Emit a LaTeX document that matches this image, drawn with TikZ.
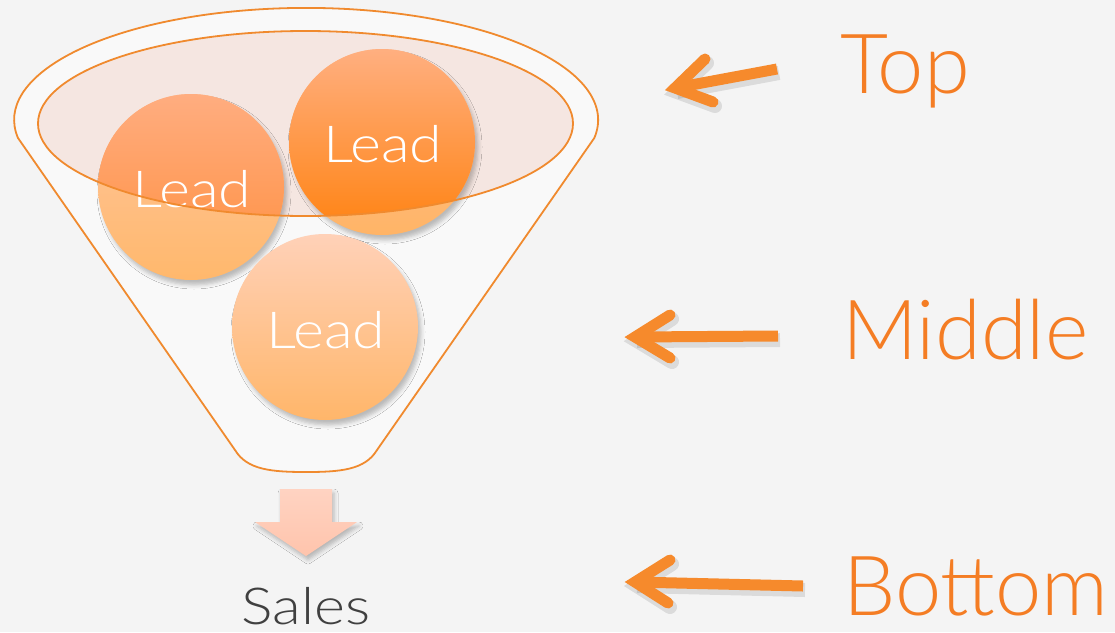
\documentclass[tikz,border=0pt]{standalone}
\usepackage{fontspec}
\IfFontExistsTF{Lato Light}{%
  \newfontfamily\lightfont{Lato Light}%
  \newfontfamily\lightwide{Lato Light}[FakeStretch=1.16]}{%
  \newfontfamily\lightfont{Lato}%
  \newfontfamily\lightwide{Lato}[FakeStretch=1.16]}
\usetikzlibrary{shadows.blur}

\definecolor{bg}{HTML}{F4F4F4}
\definecolor{funnelfill}{HTML}{F9F9F9}
\definecolor{rim}{HTML}{F08A2E}
\definecolor{mouth}{HTML}{F5E6E1}
\definecolor{accent}{HTML}{F68A2C}
\definecolor{labeltext}{HTML}{F47D24}
\definecolor{salestext}{HTML}{404040}
% lead gradients
\definecolor{leadtop}{HTML}{FFC6A0}
\definecolor{leadbotA}{HTML}{FFB86C}
\definecolor{leadbotB}{HTML}{FFB466}
\definecolor{leadtopC}{HTML}{FFD1B8}
\definecolor{leadbotC}{HTML}{FFB66A}
\definecolor{deeptopA}{HTML}{FFAD80}
\definecolor{deepbotA}{HTML}{FF8E3C}
\definecolor{deeptopB}{HTML}{FFAF80}
\definecolor{deepbotB}{HTML}{FF8210}
\definecolor{salestop}{HTML}{FFD3C2}
\definecolor{salesbot}{HTML}{FFC4AC}

\tikzset{
  outline/.style={draw=rim, line width=1.8pt},
  leadball/.style={blur shadow={shadow xshift=3pt, shadow yshift=-5pt, shadow blur radius=4pt, shadow opacity=25}},
  leadtext/.style={anchor=base, inner sep=0pt, text=white, font=\lightwide\fontsize{51}{56}\selectfont},
  stagetext/.style={anchor=base west, inner sep=0pt, text=labeltext, font=\lightfont\fontsize{83}{90}\selectfont},
  barbs/.style={draw=accent, line width=11pt, line cap=round, line join=miter},
  shaft/.style={draw=accent, line width=11pt, line cap=butt},
  arrowshade/.style={draw=black, draw opacity=0.10, line width=14pt, line cap=round, line join=miter, transform canvas={shift={(2pt,-4pt)}}},
}

\begin{document}
\begin{tikzpicture}[x=1pt,y=-1pt]
  % canvas
  \fill[bg] (0,0) rectangle (1115,632);
  \useasboundingbox (0,0) rectangle (1115,632);

  % funnel body: elliptic rim, straight sides, rounded spout
  \coordinate (rimL) at (18,138);
  \coordinate (rimR) at (594,138);
  \coordinate (spoutR) at (377,450);
  \coordinate (spoutL) at (235,450);
  \draw[outline, fill=funnelfill]
    (rimL) arc[start angle=170.7, end angle=369.3, x radius=292, y radius=112]
    -- (spoutR) .. controls (365,470) and (340,472) .. (306,472)
    .. controls (272,472) and (247,470) .. (spoutL) -- cycle;

  % funnel mouth
  \fill[mouth] (305.5,123.5) ellipse[x radius=267.5, y radius=92.5];

  % leads
  \shade[leadball, top color=leadtop, bottom color=leadbotA] (191,187) circle[radius=93];
  \shade[leadball, top color=leadtop, bottom color=leadbotB] (382,142) circle[radius=93];
  \shade[leadball, top color=leadtopC, bottom color=leadbotC] (325,327) circle[radius=93];

  % parts of the leads seen through the mouth
  \begin{scope}
    \clip (305.5,123.5) ellipse[x radius=267.5, y radius=92.5];
    \shade[top color=deeptopA, bottom color=deepbotA] (191,187) circle[radius=93];
    \shade[top color=deeptopB, bottom color=deepbotB] (382,142) circle[radius=93];
  \end{scope}

  \node[leadtext] (lead1) at (192,207) {Lead};
  \node[leadtext] (lead2) at (383,162) {Lead};
  \node[leadtext] (lead3) at (326,348) {Lead};

  \draw[outline] (305.5,123.5) ellipse[x radius=267.5, y radius=92.5];

  % output arrow and label
  \shade[top color=salestop, bottom color=salesbot,
         blur shadow={shadow xshift=2pt, shadow yshift=-4pt, shadow blur radius=4pt, shadow opacity=25}]
    (280,489) -- (332,489) -- (332,522) -- (357,522) -- (306,556) -- (255,522) -- (280,522) -- cycle;
  \node[anchor=base, inner sep=0pt, text=salestext, font=\lightwide\fontsize{51}{56}\selectfont] (sales) at (306,624) {Sales};

  % stage pointers
  \coordinate (topTip) at (675,88);  \coordinate (topEnd) at (777,69);
  \coordinate (topB1) at (705,59);   \coordinate (topB2) at (713,102);
  \coordinate (midTip) at (635,337); \coordinate (midEnd) at (778,336);
  \coordinate (midB1) at (670,315);  \coordinate (midB2) at (670,358);
  \coordinate (botTip) at (635,582); \coordinate (botEnd) at (803,586);
  \coordinate (botB1) at (670,560);  \coordinate (botB2) at (668,603);

  \foreach \p in {top,mid,bot}{
    \draw[arrowshade] (\p B1) -- (\p Tip) -- (\p B2);
    \draw[arrowshade, line cap=butt] (\p Tip) -- (\p End);
    \draw[shaft] (\p Tip) -- (\p End);
    \draw[barbs] (\p B1) -- (\p Tip) -- (\p B2);
  }

  \node[stagetext] (top) at (840,93) {Top};
  \node[stagetext] (middle) at (842,359) {Middle};
  \node[stagetext] (bottom) at (843,615) {Bottom};
\end{tikzpicture}
\end{document}
